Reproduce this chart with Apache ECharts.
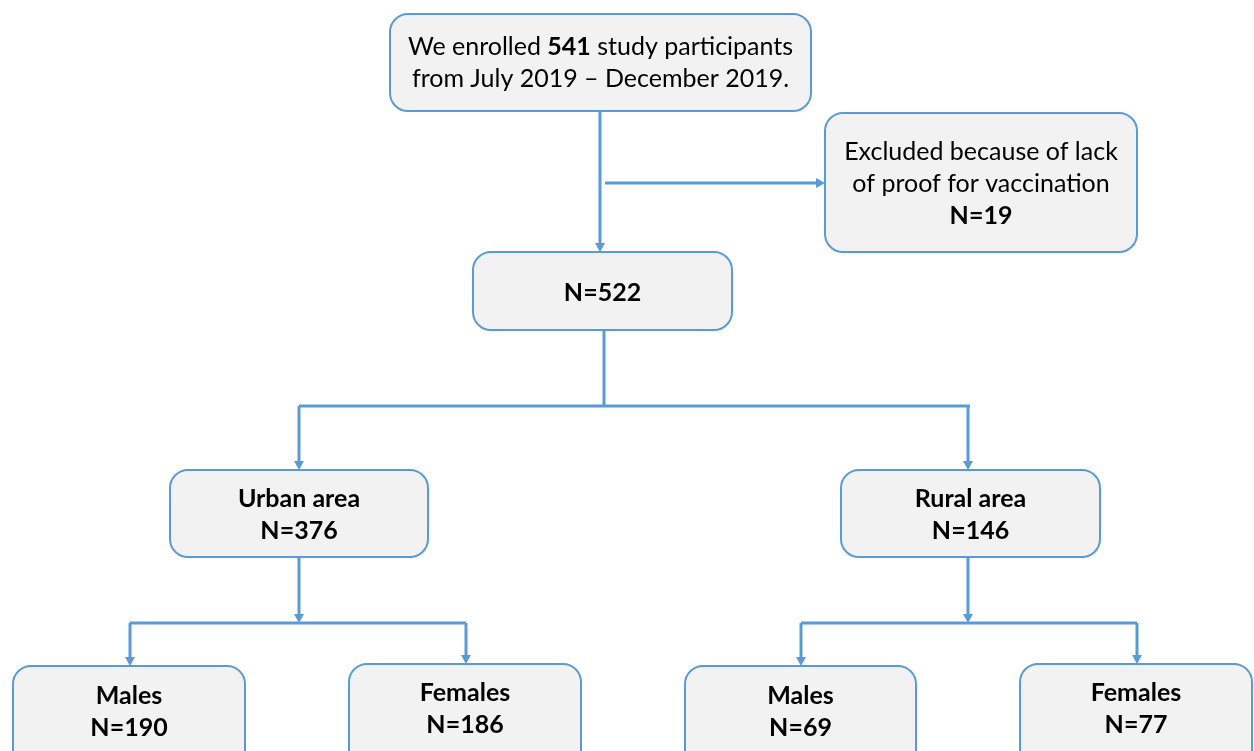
<!DOCTYPE html>
<html><head><meta charset="utf-8">
<script src="https://cdn.jsdelivr.net/npm/echarts@6/dist/echarts.min.js"></script>
<style>html,body{margin:0;padding:0;background:#fff}#c{width:1254px;height:751px}</style>
</head><body><div id="c"></div>
<script>
// ---- data ----
const nodeNames = ['Enrolled', 'Excluded', 'Included', 'Urban area', 'Rural area', 'Males', 'Females', 'Males', 'Females'];
const nodeCounts = [541, 19, 522, 376, 146, 190, 186, 69, 77];
const enrolPeriod = 'from July 2019 \u2013 December 2019.';
const excludeReason = ['Excluded because of lack', 'of proof for vaccination'];

// ---- layout (pixel space of hidden axes) ----
const boxLayout = [
  [390, 14, 811, 111],
  [825, 113, 1137, 252],
  [473, 252, 732, 330],
  [170, 470, 428, 557],
  [841, 470, 1100, 557],
  [13, 666, 245, 790],
  [349, 664, 581, 790],
  [685, 666, 916, 790],
  [1020, 664, 1252, 790]
];
const textCenterY = [63, 184, 293, 515, 515, 712, 709, 712, 709];
const edges = [
  [[600,111],[600,252],1],
  [[605,183],[825,183],1],
  [[604,330],[604,406],0],
  [[299,406],[970,406],0],
  [[299,406],[299,470],1],
  [[968,406],[968,470],1],
  [[299,557],[299,623],1],
  [[130,623],[466,623],0],
  [[130,623],[130,666],1],
  [[466,623],[466,664],1],
  [[968,557],[968,623],1],
  [[801,623],[1137,623],0],
  [[801,623],[801,666],1],
  [[1137,623],[1137,664],1]
];

function nodeText(i) {
  if (i === 0) return 'We enrolled {b|' + nodeCounts[0] + '} study participants\n' + enrolPeriod;
  if (i === 1) return excludeReason[0] + '\n' + excludeReason[1] + '\n{b|N=' + nodeCounts[1] + '}';
  if (i === 2) return '{b|N=' + nodeCounts[2] + '}';
  return '{b|' + nodeNames[i] + '}\n{b|N=' + nodeCounts[i] + '}';
}

const BLUE = '#5b9bd5';
const FONT = 'Lato, "Open Sans", sans-serif';
const FS = 25;
const LH = 32;

const chart = echarts.init(document.getElementById('c'));
chart.setOption({
  animation: false,
  grid: {left: 0, right: 0, top: 0, bottom: 0},
  xAxis: {type: 'value', min: 0, max: 1254, show: false},
  yAxis: {type: 'value', min: 0, max: 751, inverse: true, show: false},
  series: [
    {
      type: 'custom',
      coordinateSystem: 'cartesian2d',
      data: edges.map((e, i) => [i]),
      renderItem: function (params, api) {
        const e = edges[params.dataIndex];
        const a = api.coord(e[0]), b = api.coord(e[1]);
        const children = [];
        let end = b.slice();
        const ah = 9, aw = 5;
        if (e[2]) {
          const dx = b[0] - a[0], dy = b[1] - a[1];
          const L = Math.sqrt(dx*dx + dy*dy), ux = dx / L, uy = dy / L;
          end = [b[0] - ux * ah, b[1] - uy * ah];
          children.push({
            type: 'polygon',
            shape: {points: [[b[0], b[1]], [end[0] - uy * aw, end[1] + ux * aw], [end[0] + uy * aw, end[1] - ux * aw]]},
            style: {fill: BLUE}
          });
        }
        children.unshift({
          type: 'line',
          shape: {x1: a[0], y1: a[1], x2: end[0], y2: end[1]},
          style: {stroke: BLUE, lineWidth: 3}
        });
        return {type: 'group', children: children};
      },
      z: 1
    },
    {
      type: 'custom',
      coordinateSystem: 'cartesian2d',
      data: nodeNames.map((n, i) => [i]),
      renderItem: function (params, api) {
        const i = params.dataIndex;
        const L = boxLayout[i];
        const p0 = api.coord([L[0], L[1]]), p1 = api.coord([L[2], L[3]]);
        const c = api.coord([(L[0] + L[2]) / 2, textCenterY[i]]);
        return {
          type: 'group',
          children: [
            {
              type: 'rect',
              shape: {x: p0[0], y: p0[1], width: p1[0] - p0[0], height: p1[1] - p0[1], r: 18},
              style: {fill: '#f2f2f2', stroke: BLUE, lineWidth: 2}
            },
            {
              type: 'text',
              x: c[0], y: c[1],
              style: {
                text: nodeText(i),
                fill: '#000',
                fontFamily: FONT,
                fontSize: FS,
                lineHeight: LH,
                align: 'center',
                verticalAlign: 'middle',
                rich: {b: {fontWeight: 'bold', fontFamily: FONT, fontSize: FS, lineHeight: LH, fill: '#000'}}
              }
            }
          ]
        };
      },
      z: 2
    }
  ]
});
</script></body></html>
